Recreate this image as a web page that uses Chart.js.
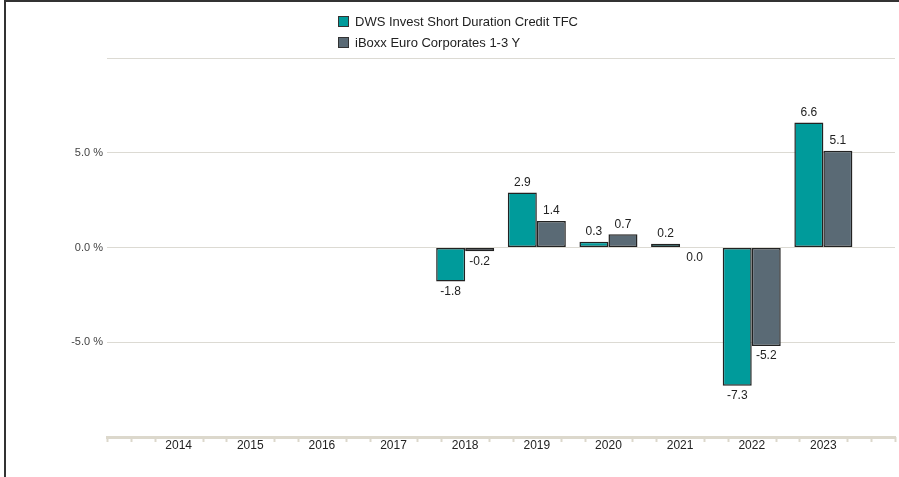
<!DOCTYPE html>
<html>
<head>
<meta charset="utf-8">
<script src="https://cdn.jsdelivr.net/npm/chart.js@4.4.1/dist/chart.umd.min.js"></script>
<style>
    body { margin: 0; background: #fff; font-family: 'Liberation Sans', Arial, sans-serif; }
    #wrap { position: relative; width: 899px; height: 477px; overflow: hidden; }
    #frame { position: absolute; left: 4px; top: 0; right: -4px; bottom: -4px; border-top: 2px solid #333; border-left: 2px solid #333; pointer-events: none; }
    #chart { position: absolute; left: 0; top: 0; }
    #legend { position: absolute; left: 338px; top: 11px; font-size: 13px; color: #222; }
    #legend .item { display: flex; align-items: center; height: 21px; }
    #legend .box { width: 9px; height: 9px; border: 1px solid #333; margin-right: 6px; }
</style>
</head>
<body>
<div id="wrap">
    <canvas id="chart" width="899" height="477"></canvas>
    <div id="legend"></div>
    <div id="frame"></div>
</div>
<script>
// Chart data
const years = ['2014', '2015', '2016', '2017', '2018', '2019', '2020', '2021', '2022', '2023'];
const fundValues = [null, null, null, null, -1.8, 2.9, 0.3, 0.2, -7.3, 6.6];
const indexValues = [null, null, null, null, -0.2, 1.4, 0.7, 0.0, -5.2, 5.1];
const seriesNames = ['DWS Invest Short Duration Credit TFC', 'iBoxx Euro Corporates 1-3 Y'];
const yTicks = [-5, 0, 5];

const colors = ['#009b9b', '#5a6a75'];
const axisColor = '#dcd8cc';

// pad one empty slot on each side of the years
const labels = [''].concat(years, ['']);
const pad = arr => [null].concat(arr, [null]);

// Legend (two stacked rows)
const legendEl = document.getElementById('legend');
seriesNames.forEach((name, i) => {
    const row = document.createElement('div');
    row.className = 'item';
    row.innerHTML = '<span class="box" style="background:' + colors[i] + '"></span><span>' + name + '</span>';
    legendEl.appendChild(row);
});

// Small ticks along the x axis, three per year slot
const minorTicks = {
    id: 'minorTicks',
    afterDraw(chart) {
        const x = chart.scales.x;
        const ctx = chart.ctx;
        const bottom = chart.chartArea.bottom;
        const steps = (labels.length - 1) * 3;
        ctx.save();
        ctx.strokeStyle = axisColor;
        ctx.lineWidth = 2;
        for (let k = 0; k <= steps; k++) {
            if (k % 3 === 0 && k !== 0 && k !== steps) continue;
            const px = Math.round(x.getPixelForValue(k / 3)) + 0.5;
            ctx.beginPath();
            ctx.moveTo(px, bottom);
            ctx.lineTo(px, bottom + 5);
            ctx.stroke();
        }
        ctx.restore();
    }
};

// Value labels above / below bars
const valueLabels = {
    id: 'valueLabels',
    afterDatasetsDraw(chart) {
        const ctx = chart.ctx;
        ctx.save();
        ctx.font = '12px "Liberation Sans", Arial, sans-serif';
        ctx.fillStyle = '#222';
        ctx.textAlign = 'center';
        ctx.textBaseline = 'middle';
        chart.data.datasets.forEach((ds, di) => {
            const meta = chart.getDatasetMeta(di);
            meta.data.forEach((bar, i) => {
                const v = ds.data[i];
                if (v === null || v === undefined) return;
                const y = v > 0 ? Math.min(bar.y, bar.base) - 10 : Math.max(bar.y, bar.base) + 10;
                ctx.fillText(v.toFixed(1), bar.x, y);
            });
        });
        ctx.restore();
    }
};

new Chart(document.getElementById('chart'), {
    type: 'bar',
    data: {
        labels: labels,
        datasets: [{
            label: seriesNames[0],
            data: pad(fundValues),
            backgroundColor: colors[0],
            borderColor: '#222',
            borderWidth: 1.5,
            borderSkipped: false
        }, {
            label: seriesNames[1],
            data: pad(indexValues),
            backgroundColor: colors[1],
            borderColor: '#222',
            borderWidth: 1.5,
            borderSkipped: false
        }]
    },
    options: {
        responsive: false,
        animation: false,
        categoryPercentage: 0.81,
        barPercentage: 1,
        layout: {
            padding: { top: 58, right: 4, left: 0, bottom: 0 }
        },
        plugins: {
            legend: { display: false },
            tooltip: { enabled: false }
        },
        scales: {
            x: {
                offset: false,
                grid: { display: false, drawTicks: false },
                border: { color: axisColor, width: 3 },
                ticks: {
                    color: '#222',
                    font: { family: '"Liberation Sans", Arial, sans-serif', size: 12 },
                    padding: 1,
                    maxRotation: 0,
                    autoSkip: false
                },
                afterFit(scale) { scale.height = 40; }
            },
            y: {
                min: -10,
                max: 10,
                grid: {
                    color: ctx => ctx.tick && ctx.tick.value === -10 ? 'rgba(0,0,0,0)' : '#dcdad3',
                    lineWidth: 1,
                    drawTicks: false
                },
                border: { display: false },
                ticks: {
                    stepSize: 5,
                    padding: 4,
                    color: '#444',
                    font: { family: '"Liberation Sans", Arial, sans-serif', size: 11 },
                    callback: v => yTicks.includes(v) ? v.toFixed(1) + ' %' : ''
                },
                afterFit(scale) { scale.width = 107; }
            }
        }
    },
    plugins: [minorTicks, valueLabels]
});
</script>
</body>
</html>
